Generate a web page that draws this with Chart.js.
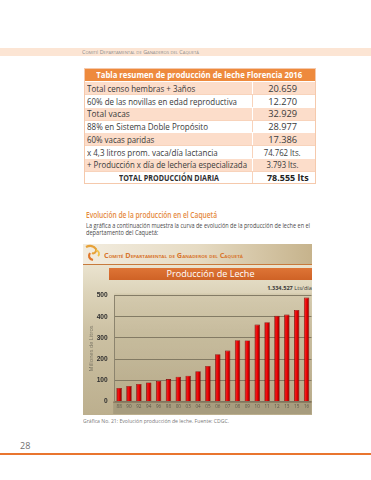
<!DOCTYPE html>
<html><head><meta charset="utf-8">
<script src="https://cdn.jsdelivr.net/npm/chart.js@4.4.1/dist/chart.umd.min.js"></script>
<style>
html,body{margin:0;padding:0;background:#fff;width:371px;height:480px;overflow:hidden;font-family:"Open Sans","DejaVu Sans",sans-serif;}
.abs{position:absolute;}
.t{position:absolute;white-space:nowrap;line-height:1;transform-origin:0 50%;}
.tc{position:absolute;white-space:nowrap;line-height:1;transform-origin:50% 50%;}
.row{position:absolute;left:0;width:230.3px;}
.c1{position:absolute;left:0;top:0;width:168px;height:100%;box-sizing:border-box;}
.c2{position:absolute;left:168px;top:0;width:62.3px;height:100%;box-sizing:border-box;}
</style></head>
<body>
<!-- page header band -->
<div class="abs" style="left:0;top:48px;width:371px;height:8px;background:#FCE5D4;"></div>
<span class="t" data-w="117" style="left:82px;top:49.5px;font-size:5.2px;color:#8d8d8d;font-variant:small-caps;">Comité Departamental de Ganaderos del Caquetá</span>

<!-- table -->
<div id="tbl" class="abs" style="left:84.7px;top:69px;width:230.3px;height:114.3px;background:#fff;outline:0.8px solid #F5C9AC;"></div>

<!-- section -->
<span class="t" data-w="131" style="left:86px;top:210.5px;font-size:8.6px;color:#E5893D;font-weight:600;">Evolución de la producción en el Caquetá</span>
<span class="t" data-w="224" style="left:86px;top:222.6px;font-size:6.6px;color:#4a4a4a;">La gráfica a continuación muestra la curva de evolución de la producción de leche en el</span>
<span class="t" data-w="72.3" style="left:86px;top:230.2px;font-size:6.6px;color:#4a4a4a;">departamento del Caquetá:</span>

<!-- chart image block -->
<div class="abs" style="left:83px;top:243.5px;width:229px;height:21px;background:linear-gradient(90deg,#F2ECDF 0%,#E6DBC3 50%,#C6B38C 100%);"></div>
<svg class="abs" style="left:84px;top:244px;" width="17" height="19" viewBox="0 0 17 19">
  <path d="M2 3 C6 1 10 2 12 5 C13 8 10 10 8 9" fill="none" stroke="#E7A23A" stroke-width="2.2"/>
  <path d="M6 9 C4 12 5 15 9 16" fill="none" stroke="#E0782C" stroke-width="2.2"/>
  <path d="M12 6 C15 7 16 10 14 12" fill="none" stroke="#F0C04A" stroke-width="1.8"/>
</svg>
<span class="t" data-w="139" style="left:104px;top:252.6px;font-size:6.4px;color:#D8772F;font-weight:700;font-variant:small-caps;">Comité Departamental de Ganaderos del Caquetá</span>
<div class="abs" style="left:83px;top:264.5px;width:229px;height:150px;background:linear-gradient(180deg,#EAE3CF 0%,#DDD4BA 18%,#CCC1A3 45%,#BCAF8E 100%);"></div>
<div class="abs" style="left:83px;top:263.5px;width:229px;height:1.6px;background:#C77A3C;"></div>
<div class="abs" style="left:109px;top:268px;width:203px;height:11.5px;background:linear-gradient(180deg,#DE7436,#CF6226);"></div>
<span class="tc" data-w="88" style="left:210.5px;top:268.8px;font-size:9.6px;color:#fff;">Producción de Leche</span>
<span class="t" id="tot" data-w="44.7" data-r="312" style="left:267px;top:285px;font-size:6px;color:#3a3a3a;"><b>1.334.527</b> Lts/día</span>
<div class="abs" style="left:83px;top:283px;width:229px;height:131px;"><canvas id="c" width="229" height="131" style="width:229px;height:131px;"></canvas></div>

<span class="t" data-w="146" style="left:83px;top:417.5px;font-size:6px;color:#7a7a7a;">Gráfica No. 21: Evolución producción de leche. Fuente: CDGC.</span>
<span class="t" style="left:20px;top:440.5px;font-size:9px;color:#707070;">28</span>
<div class="abs" style="left:0;top:453px;width:371px;height:1.6px;background:#E9752F;"></div>

<script>
// ---- table data ----
const tableTitle = "Tabla resumen de producción de leche Florencia 2016";
const tableLabels = ["Total censo hembras + 3años","60% de las novillas en edad reproductiva","Total vacas","88% en Sistema Doble Propósito","60% vacas paridas","x 4,3 litros prom. vaca/día lactancia","+ Producción x día de lechería especializada","TOTAL PRODUCCIÓN DIARIA"];
const tableValues = ["20.659","12.270","32.929","28.977","17.386","74.762 lts.","3.793 lts.","78.555 lts"];

// ---- chart data ----
const years = ["88","90","92","94","96","98","00","03","04","05","06","07","08","09","10","11","12","13","15","16"];
const production = [64,73,83,90,97,106,117,122,143,168,223,240,289,288,363,374,404,410,432,490];
const yMin = 0, yMax = 500, yStep = 50;

// build table
const labelW = [108.3,150,42.7,121,67.3,130.7,160,100];
const valueW = [29,29,29,29,29,37,32,41.7];
const tbl = document.getElementById('tbl');
const titleH = 12.3, rowH = 12.75;
let h = `<div class="row" style="top:0;height:${titleH}px;background:#EE8A3D;"><span class="tc" data-w="206" style="left:115px;top:${titleH/2}px;font-size:9.5px;font-weight:700;color:#fff;">${tableTitle}</span></div>`;
tableLabels.forEach((lab,i)=>{
  const peach = i%2===0;
  const bg = peach ? '#FCDDCA' : '#FFFFFF';
  const bd = peach ? '#FFFFFF' : '#F8D3BB';
  const top = titleH + i*rowH;
  const last = i===tableLabels.length-1;
  const lab1 = last ? `<span class="tc" data-w="${labelW[i]}" style="left:84px;top:${rowH/2}px;font-size:8.6px;font-weight:700;color:#2e2e2e;">${lab}</span>`
                    : `<span class="t" data-w="${labelW[i]}" style="left:2px;top:${rowH/2}px;font-size:9.4px;color:#3a3a3a;">${lab}</span>`;
  const v = last ? `<span class="tc" data-w="${valueW[i]}" style="left:${31+4.5}px;top:${rowH/2}px;font-size:9.4px;font-weight:700;color:#222;">${tableValues[i]}</span>`
                 : `<span class="tc" data-w="${valueW[i]}" style="left:${31-1.5}px;top:${rowH/2}px;font-size:9.4px;color:#3a3a3a;">${tableValues[i]}</span>`;
  h += `<div class="row" style="top:${top}px;height:${rowH}px;background:${bg};border-top:0.8px solid ${bd};box-sizing:border-box;">
    <div class="c1" style="border-right:0.8px solid ${bd};">${lab1}</div><div class="c2">${v}</div></div>`;
});
tbl.innerHTML = h;

// fit text widths
document.querySelectorAll('[data-w]').forEach(el=>{
  const w = parseFloat(el.dataset.w);
  const r = el.getBoundingClientRect();
  const s = w / r.width;
  const isC = el.classList.contains('tc');
  if (el.closest('#tbl')) {
    el.style.marginTop = (-r.height/2)+'px';
  }
  if (isC) {
    el.style.marginLeft = (-r.width/2)+'px';
  }
  el.style.transform = `scaleX(${s})`;
  if (el.dataset.r) {
    el.style.transformOrigin = '100% 50%';
    el.style.left = (parseFloat(el.dataset.r) - r.width) + 'px';
  }
});

// ---- chart ----
const plotBg = {
  id:'plotBg',
  beforeDraw(chart){
    const {ctx, chartArea:a} = chart;
    ctx.save();
    const g = ctx.createLinearGradient(0,a.top,0,a.bottom);
    g.addColorStop(0,'rgba(205,194,164,0.55)');
    g.addColorStop(1,'rgba(178,166,134,0.55)');
    ctx.fillStyle = g;
    ctx.fillRect(a.left, a.top-2, a.right-a.left, a.bottom-a.top+2);
    ctx.fillStyle = '#A79C7E';
    ctx.fillRect(a.left-1, a.bottom, a.right-a.left+1, chart.height-a.bottom);
    ctx.fillStyle = '#8E7F62';
    ctx.fillRect(a.left-1, a.bottom, a.right-a.left+1, 1.5);
    ctx.restore();
  }
};

const barPct = 0.55;
new Chart(document.getElementById('c'), {
  type:'bar',
  data:{ labels: years, datasets:[{
    data: production,
    backgroundColor:(c)=>{
      const ch = c.chart, xs = ch.scales && ch.scales.x;
      if (!xs || !ch.chartArea) return '#E00000';
      const x = xs.getPixelForValue(c.dataIndex);
      const w = (xs.width / years.length) * barPct;
      const g = ch.ctx.createLinearGradient(x - w/2, 0, x + w/2, 0);
      g.addColorStop(0,'#8A0000');
      g.addColorStop(0.3,'#F21A1A');
      g.addColorStop(0.55,'#E80000');
      g.addColorStop(1,'#7A0000');
      return g;
    },
    borderColor:'#6E0000',
    borderWidth:0.6,
    categoryPercentage:1,
    barPercentage:barPct
  }]},
  options:{
    responsive:false, animation:false, devicePixelRatio:1,
    layout:{padding:{top:12.5,right:0.4,left:0,bottom:0}},
    plugins:{legend:{display:false},tooltip:{enabled:false}},
    scales:{
      x:{
        grid:{display:false,drawTicks:false},
        border:{display:false},
        ticks:{color:'#5e5a4a',font:{size:4.6,family:'Open Sans'},padding:2.8,maxRotation:0,autoSkip:false},
        afterFit(s){ s.height = 12.5; }
      },
      y:{
        min:yMin, max:yMax,
        grid:{color:'#7B735E',lineWidth:0.9,drawTicks:false},
        border:{display:true,color:'#8C846E',width:1},
        ticks:{stepSize:yStep,color:'#2e2e2e',font:{size:6.6,weight:'bold',family:'Liberation Sans'},padding:6.5},
        title:{display:true,text:'Millones de Litros',color:'#7a7565',font:{size:5.6,family:'Open Sans'},padding:{top:4.6,bottom:0}},
        afterFit(s){ s.width = 31.2; }
      }
    }
  },
  plugins:[plotBg]
});
</script>
</body></html>
